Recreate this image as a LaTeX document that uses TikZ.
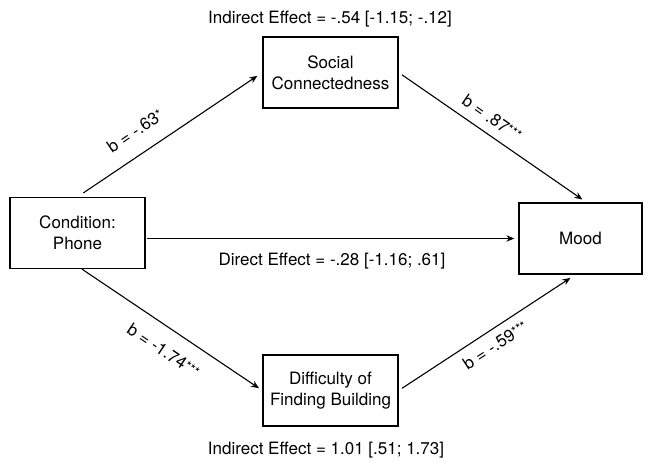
\documentclass[tikz,border=0pt]{standalone}
\usepackage{fontspec}
\setmainfont{TeX Gyre Heros}
\usetikzlibrary{arrows.meta}
\newcommand{\sig}[1]{\raisebox{2pt}{\fontsize{13}{13}\selectfont #1}}

\begin{document}
\begin{tikzpicture}[x=1pt,y=1pt,
  font=\fontsize{17}{21}\selectfont,
  box/.style={draw, line width=1.3pt, minimum width=135pt, minimum height=71pt, align=center, inner sep=0pt},
  arr/.style={line width=1.1pt, -{Stealth[length=8pt,width=6.5pt]}},
  coef/.style={sloped, inner sep=0pt}]
\useasboundingbox (0,0) rectangle (648,464);
\node[box] (soc) at (330.5,391.5) {Social\\Connectedness};
\node[box] (cond) at (77.5,231) {Condition:\\Phone};
\node[box, minimum width=123pt] (mood) at (580.5,225.5) {Mood};
\node[box] (diff) at (330.5,73.5) {Difficulty of\\Finding Building};
\node (ind1) at (330,445) {Indirect Effect = -.54 [-1.15; -.12]};
\node (dir) at (332,203) {Direct Effect = -.28 [-1.16; .61]};
\node (ind2) at (326,14) {Indirect Effect = 1.01 [.51; 1.73]};
\draw[arr, shorten <=7pt, shorten >=6pt] (cond.north) -- (soc.west) node[coef, pos=.38, above=16pt] {b = -.63\sig{*}};
\draw[arr, shorten <=4pt, shorten >=5pt] (soc.east) -- ([xshift=6pt]mood.north) node[coef, pos=.45, above=9pt] {b = .87\sig{***}};
\draw[arr, shorten <=1pt, shorten >=4pt] (cond.east |- mood.west) -- (mood.west);
\draw[arr, shorten >=4pt] ([xshift=4.5pt]cond.south) -- (diff.west) node[coef, pos=.52, below=15pt] {b = -1.74\sig{***}};
\draw[arr, shorten <=4pt, shorten >=6pt] (diff.east) -- ([xshift=-5pt]mood.south) node[coef, pos=.5, below=8pt] {b = -.59\sig{***}};
\end{tikzpicture}
\end{document}
